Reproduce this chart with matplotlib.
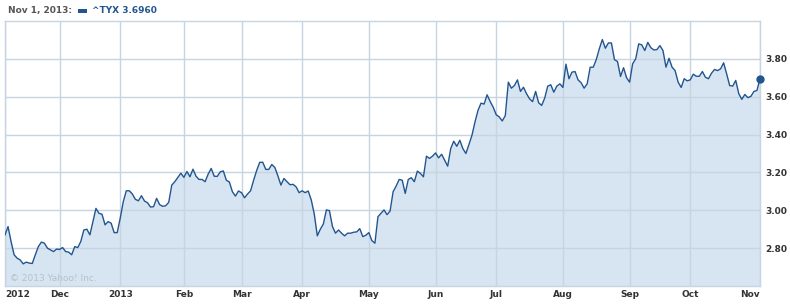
import numpy as np
import pandas as pd
import matplotlib
matplotlib.use("Agg")
import matplotlib.pyplot as plt
from matplotlib.patches import Rectangle

# trading days, Nov 6 2012 .. Nov 1 2013 (NYSE holidays removed)
holidays = ['2012-11-22', '2012-12-25', '2013-01-01', '2013-01-21', '2013-02-18',
            '2013-03-29', '2013-05-27', '2013-07-04', '2013-09-02']
dates = pd.bdate_range('2012-11-06', '2013-11-01')
dates = dates[~dates.isin(pd.to_datetime(holidays))]

# ^TYX close
tyx = [
    2.870, 2.914, 2.835, 2.765, 2.747, 2.738, 2.717, 2.726, 2.721, 2.719,
    2.765, 2.808, 2.832, 2.826, 2.800, 2.791, 2.782, 2.795, 2.793, 2.803,
    2.782, 2.779, 2.765, 2.808, 2.803, 2.835, 2.896, 2.900, 2.870, 2.940,
    3.010, 2.984, 2.979, 2.923, 2.940, 2.932, 2.882, 2.882, 2.958, 3.045,
    3.103, 3.103, 3.086, 3.058, 3.050, 3.077, 3.049, 3.040, 3.017, 3.019,
    3.063, 3.030,
    3.021, 3.024, 3.042, 3.133, 3.151, 3.174, 3.196, 3.174, 3.205, 3.177,
    3.217, 3.180, 3.163, 3.163, 3.151, 3.191, 3.221, 3.180, 3.179, 3.203,
    3.208, 3.159, 3.149, 3.098, 3.075, 3.102, 3.093, 3.066, 3.086, 3.103,
    3.159, 3.210, 3.253, 3.254, 3.216, 3.216, 3.242, 3.226, 3.182, 3.133,
    3.168, 3.151, 3.135, 3.137, 3.124, 3.093, 3.103, 3.093, 3.102,
    3.055, 2.980, 2.865, 2.900, 2.928, 3.002, 2.998, 2.914, 2.879, 2.896,
    2.879, 2.865, 2.879, 2.879, 2.884, 2.886, 2.903, 2.861, 2.868, 2.882,
    2.840, 2.826, 2.966, 2.984, 3.002, 2.977, 2.996, 3.098, 3.128, 3.163,
    3.159, 3.089, 3.163, 3.172, 3.151, 3.207, 3.195, 3.177, 3.286, 3.274,
    3.286, 3.303, 3.277, 3.296, 3.265, 3.233, 3.326, 3.365, 3.338, 3.370,
    3.326, 3.300, 3.347,
    3.396, 3.466, 3.528, 3.566, 3.561, 3.610, 3.575, 3.545, 3.505, 3.493,
    3.472, 3.500, 3.677, 3.645, 3.659, 3.689, 3.628, 3.650, 3.616, 3.589,
    3.574, 3.628, 3.568, 3.554, 3.593, 3.656, 3.663, 3.624, 3.656, 3.668,
    3.649, 3.772, 3.695, 3.730, 3.733, 3.689, 3.674, 3.645, 3.668, 3.756,
    3.756, 3.796, 3.853, 3.902, 3.856, 3.884, 3.884, 3.796, 3.786, 3.707,
    3.753,
    3.700, 3.677, 3.774, 3.800, 3.879, 3.874, 3.844, 3.887, 3.859, 3.847,
    3.849, 3.870, 3.844, 3.756, 3.803, 3.756, 3.738, 3.677, 3.649, 3.695,
    3.684, 3.689, 3.719, 3.708, 3.708, 3.733, 3.703, 3.695, 3.724, 3.744,
    3.738, 3.747, 3.779, 3.721, 3.659, 3.656, 3.686, 3.616, 3.586, 3.612,
    3.595, 3.602, 3.628, 3.633, 3.696,
]

month_labels = ['2012', 'Dec', '2013', 'Feb', 'Mar', 'Apr', 'May', 'Jun',
                'Jul', 'Aug', 'Sep', 'Oct', 'Nov']
y_ticks = [2.8, 3.0, 3.2, 3.4, 3.6, 3.8]

LINE = '#22558f'
FILL = '#d6e5f1'
GRID = '#c6d5e1'
TXT = '#333333'

x = np.arange(len(tyx))
periods = dates.to_period('M')
month_starts = np.flatnonzero(periods[1:] != periods[:-1]) + 1
tick_pos = np.concatenate([[0], month_starts])

fig = plt.figure(figsize=(7.9, 3.04), dpi=100)
ax = fig.add_axes([5 / 790, 18 / 304, 755 / 790, 265 / 304])

ax.fill_between(x, tyx, 2.6, color=FILL, lw=0, zorder=1)
ax.plot(x, tyx, color=LINE, lw=1.0, zorder=3)
ax.plot(x[-1], tyx[-1], 'o', color=LINE, ms=5, zorder=4, clip_on=False)

ax.set_xlim(0, len(tyx) - 1)
ax.set_ylim(2.6, 4.0)

ax.set_xticks(tick_pos)
ax.set_xticklabels(month_labels)
ax.set_yticks(y_ticks)
ax.set_yticklabels([f'{v:.2f}' for v in y_ticks])
ax.yaxis.tick_right()
ax.tick_params(length=0, labelsize=6.5, labelcolor=TXT)
ax.tick_params(axis='x', pad=3)
ax.tick_params(axis='y', pad=4)
for lab in ax.get_xticklabels() + ax.get_yticklabels():
    lab.set_fontweight('bold')
xl = ax.get_xticklabels()
xl[0].set_horizontalalignment('left')
xl[-1].set_horizontalalignment('right')

ax.grid(True, color=GRID, lw=1.0, zorder=2)
ax.set_axisbelow(False)
for s in ax.spines.values():
    s.set_color(GRID)
    s.set_linewidth(1.0)

ax.text(0.007, 0.01, '\u00a9 2013 Yahoo! Inc.', transform=ax.transAxes,
        fontsize=6.5, color='#b3c1cd', va='bottom', ha='left', zorder=5)

# header
fig.text(8 / 790, 1 - 10.5 / 304, 'Nov 1, 2013:', fontsize=6.5, fontweight='bold',
         color='#555555', va='center', ha='left')
fig.patches.append(Rectangle((78 / 790, 1 - 13.3 / 304), 9 / 790, 4 / 304,
                             transform=fig.transFigure, color=LINE, lw=0))
fig.text(92 / 790, 1 - 10.5 / 304, '^TYX 3.6960', fontsize=6.5, fontweight='bold',
         color=LINE, va='center', ha='left')

fig.savefig('out.png', dpi=100)
